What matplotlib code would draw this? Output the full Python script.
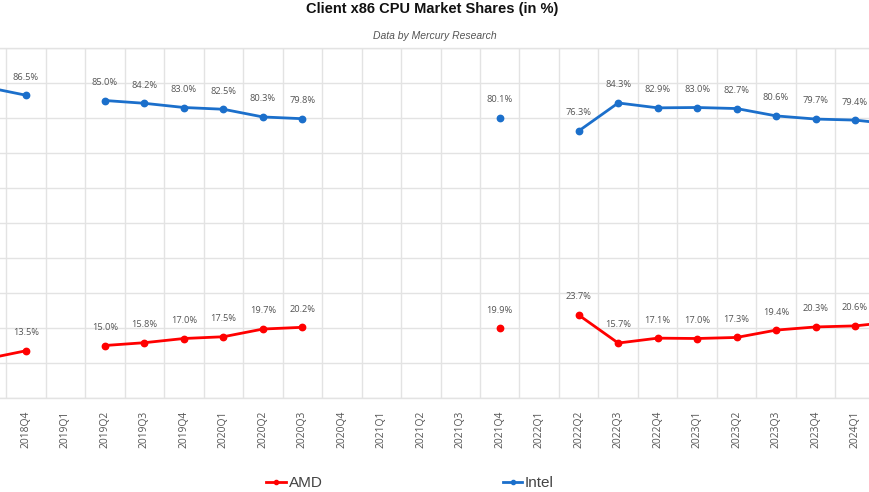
import numpy as np
import matplotlib.pyplot as plt
from matplotlib.lines import Line2D

# quarters shown (the picture is cropped a bit on both sides)
quarters = ['2018Q3', '2018Q4',
            '2019Q1', '2019Q2', '2019Q3', '2019Q4',
            '2020Q1', '2020Q2', '2020Q3', '2020Q4',
            '2021Q1', '2021Q2', '2021Q3', '2021Q4',
            '2022Q1', '2022Q2', '2022Q3', '2022Q4',
            '2023Q1', '2023Q2', '2023Q3', '2023Q4',
            '2024Q1', '2024Q2']

nan = np.nan
amd = [11.2, 13.5,
       nan, 15.0, 15.8, 17.0,
       17.5, 19.7, 20.2, nan,
       nan, nan, nan, 19.9,
       nan, 23.7, 15.7, 17.1,
       17.0, 17.3, 19.4, 20.3,
       20.6, 21.8]
intel = [88.8, 86.5,
         nan, 85.0, 84.2, 83.0,
         82.5, 80.3, 79.8, nan,
         nan, nan, nan, 80.1,
         nan, 76.3, 84.3, 82.9,
         83.0, 82.7, 80.6, 79.7,
         79.4, 78.2]

amd_color = '#ff0000'
intel_color = '#1b6fcb'
grid_color = '#e3e3e3'
label_color = '#555555'

fig = plt.figure(figsize=(8.7, 4.92), dpi=100)
ax = fig.add_axes([0, 94 / 492, 1, 350 / 492])

x = np.arange(len(quarters))
ax.plot(x, amd, color=amd_color, lw=2, marker='o', ms=4.6, zorder=3)
ax.plot(x, intel, color=intel_color, lw=2, marker='o', ms=4.6, zorder=3)

# axes / grid (ticks first, limits after, so the ticks don't widen the view)
ax.set_yticks(np.arange(0, 101, 10))
ax.set_xticks(x)
ax.set_xticklabels(quarters, rotation=90, fontsize=7.4, color=label_color, family='Open Sans')
ax.set_xticks(x[:-1] + 0.5, minor=True)
ax.set_ylim(0, 100)
ax.set_xlim(1 - 26 / 39.48, 1 + 844 / 39.48)
ax.tick_params(axis='x', which='both', length=0, pad=9)
ax.tick_params(axis='y', left=False, labelleft=False)
ax.grid(axis='y', which='major', color=grid_color, lw=1)
ax.grid(axis='x', which='minor', color=grid_color, lw=1)
for s in ['left', 'right']:
    ax.spines[s].set_visible(False)
for s in ['top', 'bottom']:
    ax.spines[s].set_color(grid_color)
    ax.spines[s].set_linewidth(1)

# value labels above each point (only the ones inside the view)
xmin, xmax = ax.get_xlim()
for series in (amd, intel):
    for i, v in enumerate(series):
        if np.isnan(v) or i < xmin or i > xmax:
            continue
        ax.annotate(f"{v:.1f}%", (i, v), xytext=(0, 13), textcoords='offset points',
                    ha='center', va='center', fontsize=6.7, color=label_color,
                    family='Open Sans', annotation_clip=False)

fig.text(0.497, 1 - 9 / 492, 'Client x86 CPU Market Shares (in %)', ha='center', va='center',
         fontsize=10.5, fontweight='bold', family='Liberation Sans', color='#111111')
fig.text(0.5, 1 - 36 / 492, 'Data by Mercury Research', ha='center', va='center',
         fontsize=7.5, style='italic', family='Liberation Sans', color='#555555')

handles = [Line2D([], [], color=amd_color, lw=2, marker='o', ms=3),
           Line2D([], [], color=intel_color, lw=2, marker='o', ms=3)]
leg = fig.legend(handles, ['AMD', 'Intel'], loc='center', bbox_to_anchor=(410 / 870, 1 - 483 / 492),
                 ncol=2, frameon=False, handlelength=1.3, handletextpad=0.15, columnspacing=11.8,
                 prop={'family': 'Liberation Sans', 'size': 11})
for t in leg.get_texts():
    t.set_color('#444444')

fig.savefig('out.png', dpi=100, facecolor='white')
